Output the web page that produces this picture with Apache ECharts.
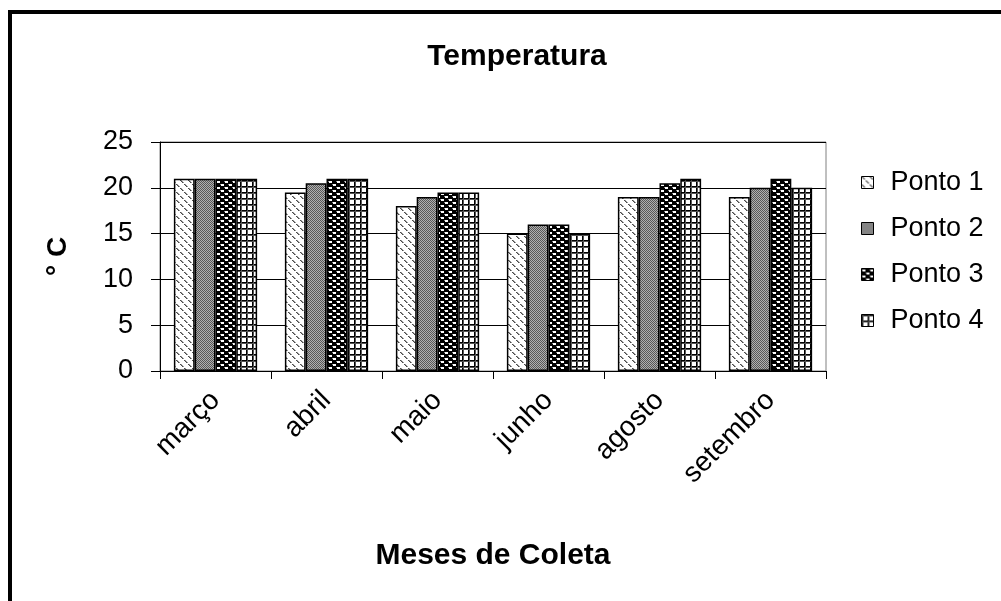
<!DOCTYPE html>
<html>
<head>
<meta charset="utf-8">
<script src="https://cdn.jsdelivr.net/npm/echarts@6/dist/echarts.min.js"></script>
<style>
  html, body { margin: 0; padding: 0; background: #fff; }
  #chart { width: 1001px; height: 601px; }
</style>
</head>
<body>
<div id="chart"></div>
<script>
// Monthly water temperature (°C) at four sampling points
const months = ['março', 'abril', 'maio', 'junho', 'agosto', 'setembro'];
const ponto1 = [21, 19.5, 18, 15, 19, 19];
const ponto2 = [21, 20.5, 19, 16, 19, 20];
const ponto3 = [21, 21, 19.5, 16, 20.5, 21];
const ponto4 = [21, 21, 19.5, 15, 21, 20];
const seriesNames = ['Ponto 1', 'Ponto 2', 'Ponto 3', 'Ponto 4'];
const yTicks = [0, 5, 10, 15, 20, 25];

const FONT = '"Liberation Sans", Arial, sans-serif';

// Small repeating tiles used as bar fills
function tile(w, h, draw) {
  const c = document.createElement('canvas');
  c.width = w; c.height = h;
  const g = c.getContext('2d');
  draw(g);
  return { image: c, repeat: 'repeat' };
}
// diagonal gray dashes on white
const fillDash = tile(8, 8, g => {
  g.fillStyle = '#fff'; g.fillRect(0, 0, 8, 8);
  g.fillStyle = '#4a4a4a';
  [[0,0],[1,1],[2,2],[4,4],[5,5],[6,6]].forEach(p => g.fillRect(p[0], p[1], 1, 1));
  g.fillStyle = '#9a9a9a';
  [[1,0],[2,1],[3,2],[5,4],[6,5],[7,6]].forEach(p => g.fillRect(p[0], p[1], 1, 1));
});
// fine gray checker
const fillChecker = tile(2, 2, g => {
  g.fillStyle = '#b0b0b0'; g.fillRect(0, 0, 2, 2);
  g.fillStyle = '#585858'; g.fillRect(0, 0, 1, 1); g.fillRect(1, 1, 1, 1);
});
// black with small white bricks
const fillBrick = tile(8, 6, g => {
  g.fillStyle = '#000'; g.fillRect(0, 0, 8, 6);
  g.fillStyle = '#fff';
  g.fillRect(1, 1, 3, 2);
  g.fillRect(5, 4, 3, 2);
  g.fillStyle = '#888';
  g.fillRect(0, 1, 1, 1); g.fillRect(4, 4, 1, 1);
});
// black grid on white
const fillGrid = tile(6, 6, g => {
  g.fillStyle = '#fff'; g.fillRect(0, 0, 6, 6);
  g.fillStyle = '#000'; g.fillRect(0, 0, 6, 1); g.fillRect(0, 0, 1, 6);
  g.fillStyle = '#555'; g.fillRect(0, 1, 6, 1); g.fillRect(1, 0, 1, 6);
});
const fills = [fillDash, fillChecker, fillBrick, fillGrid];
const values = [ponto1, ponto2, ponto3, ponto4];

const chart = echarts.init(document.getElementById('chart'));
chart.setOption({
  animation: false,
  backgroundColor: '#fff',
  textStyle: { fontFamily: FONT, color: '#000' },
  graphic: [{
    type: 'rect',
    shape: { x: 10, y: 12, width: 1100, height: 700 },
    style: { fill: 'none', stroke: '#000', lineWidth: 4 },
    silent: true
  }],
  title: {
    text: 'Temperatura',
    left: 512, top: 37, textAlign: 'center',
    textStyle: { fontFamily: FONT, fontSize: 30, fontWeight: 'bold', color: '#000' }
  },
  legend: {
    orient: 'vertical',
    left: 856, top: 164,
    itemWidth: 12, itemHeight: 12, itemGap: 19,
    icon: 'rect',
    data: seriesNames,
    itemStyle: { borderColor: '#000', borderWidth: 1 },
    textStyle: { fontFamily: FONT, fontSize: 27, color: '#000', padding: [0, 0, 0, 12] }
  },
  grid: {
    left: 160, right: 175, top: 142, bottom: 230,
    show: true, borderColor: '#808080', borderWidth: 1
  },
  xAxis: {
    type: 'category',
    data: months,
    name: 'Meses de Coleta',
    nameLocation: 'middle', nameGap: 170,
    nameTextStyle: { fontFamily: FONT, fontSize: 30, fontWeight: 'bold', color: '#000' },
    axisLine: { lineStyle: { color: '#000', width: 1 } },
    axisTick: { show: true, length: 8, lineStyle: { color: '#000' } },
    axisLabel: { rotate: 45, margin: 25, fontFamily: FONT, fontSize: 28, color: '#000' }
  },
  yAxis: {
    type: 'value',
    min: yTicks[0], max: yTicks[yTicks.length - 1], interval: 5,
    name: '° C',
    nameLocation: 'middle', nameGap: 88,
    nameTextStyle: { fontFamily: FONT, fontSize: 28, fontWeight: 'bold', color: '#000' },
    axisLine: { show: true, lineStyle: { color: '#000', width: 1 } },
    axisTick: { show: true, length: 9, lineStyle: { color: '#000' } },
    axisLabel: { margin: 27, fontFamily: FONT, fontSize: 27, color: '#000' },
    splitLine: { show: true, lineStyle: { color: '#000', width: 1 } }
  },
  series: seriesNames.map((name, i) => ({
    name,
    type: 'bar',
    data: values[i],
    barGap: '0%',
    barCategoryGap: '25%',
    itemStyle: { color: fills[i], borderColor: '#000', borderWidth: 1.5 }
  }))
});
</script>
</body>
</html>
